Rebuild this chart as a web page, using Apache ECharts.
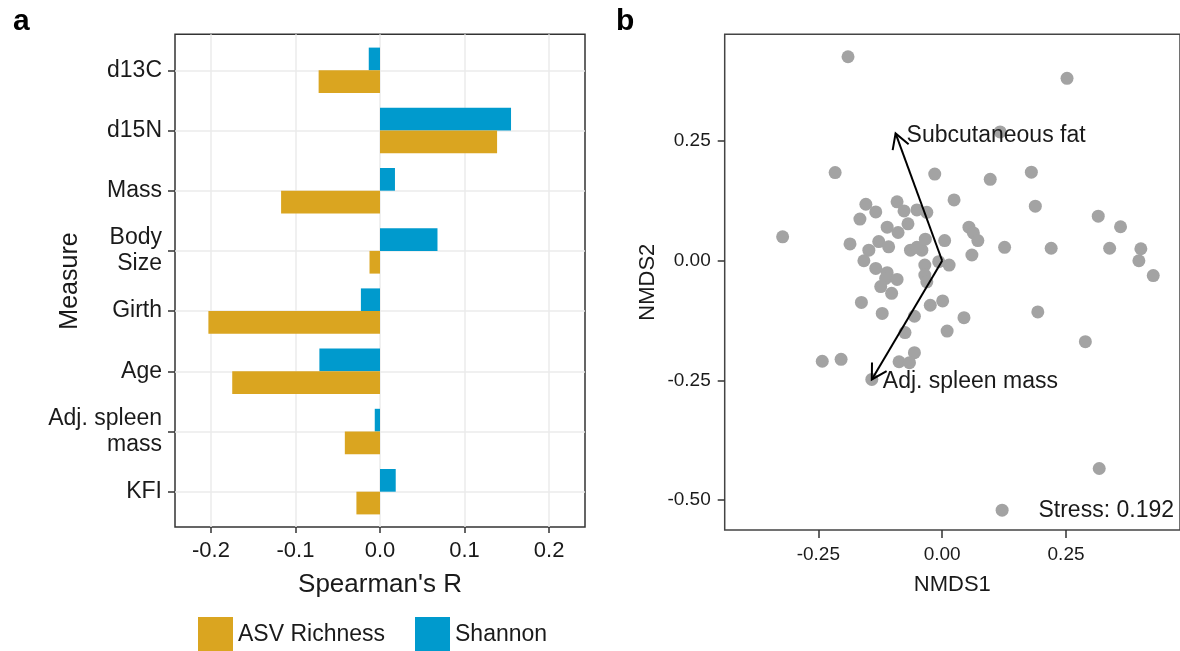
<!DOCTYPE html>
<html>
<head>
<meta charset="utf-8">
<script src="https://cdn.jsdelivr.net/npm/echarts@6/dist/echarts.min.js"></script>
<style>
html,body{margin:0;padding:0;background:#fff;overflow:hidden;}
#chart{width:1180px;height:651px;}
</style>
</head>
<body>
<div id="chart"></div>
<script>
// ---------- Panel a data ----------
const categories = ['d13C', 'd15N', 'Mass', 'Body\nSize', 'Girth', 'Age', 'Adj. spleen\nmass', 'KFI'];
const asvRichness = [-0.0726, 0.1385, -0.117, -0.0124, -0.203, -0.1748, -0.0416, -0.0279];
const shannon = [-0.0133, 0.155, 0.0177, 0.068, -0.0226, -0.0717, -0.0062, 0.0186];
const spearmanTicks = [-0.2, -0.1, 0, 0.1, 0.2];

// ---------- Panel b data ----------
const nmds1 = [-0.190, 0.252, 0.117, -0.216, -0.015, 0.097, 0.180, 0.024, 0.188, 0.315, 0.360, -0.322, 0.126, 0.220, 0.338, 0.401, 0.397, 0.426, 0.193, 0.060,
  -0.154, -0.134, -0.091, -0.077, -0.051, -0.031, -0.166, -0.111, -0.069, -0.089, -0.186, -0.128, -0.108, -0.148, -0.158, -0.064, -0.041, -0.051, -0.034, 0.005,
  -0.007, 0.014, -0.035, -0.035, -0.031, -0.134, -0.111, -0.114, -0.091, -0.124, -0.102, -0.163, 0.001, 0.054, 0.063, 0.072,
  -0.121, -0.056, -0.024, 0.044, 0.010, -0.075, 0.289, -0.242, -0.204, -0.056, -0.087, -0.066, -0.142, 0.317, 0.121];
const nmds2 = [0.426, 0.381, 0.269, 0.184, 0.181, 0.170, 0.185, 0.127, 0.114, 0.093, 0.071, 0.050, 0.028, 0.026, 0.026, 0.025, 0.000, -0.031, -0.107, 0.012,
  0.118, 0.102, 0.123, 0.104, 0.106, 0.101, 0.087, 0.070, 0.077, 0.059, 0.035, 0.040, 0.029, 0.022, 0.000, 0.022, 0.022, 0.028, 0.045, 0.042,
  -0.002, -0.009, -0.009, -0.030, -0.044, -0.016, -0.025, -0.037, -0.039, -0.054, -0.068, -0.087, -0.084, 0.070, 0.058, 0.042,
  -0.110, -0.116, -0.093, -0.119, -0.147, -0.150, -0.169, -0.210, -0.206, -0.192, -0.211, -0.213, -0.248, -0.434, -0.521];
const envNames = ['Subcutaneous fat', 'Adj. spleen mass'];
const envX = [-0.094, -0.142];
const envY = [0.266, -0.248];
const nmds1Ticks = [-0.25, 0, 0.25];
const nmds2Ticks = [-0.5, -0.25, 0, 0.25];
const stressLabel = 'Stress: 0.192';

const FONT = "'Liberation Sans', Arial, sans-serif";
const TXT = '#1a1a1a';
const GOLD = '#DAA520';
const BLUE = '#009ACD';

const chart = echarts.init(document.getElementById('chart'), null, {renderer: 'canvas'});

const points = nmds1.map((x, i) => [x, nmds2[i]]);
const arrows = envX.map((x, i) => [x, envY[i]]);

const option = {
  backgroundColor: '#fff',
  animation: false,
  textStyle: {fontFamily: FONT},
  grid: [
    // panel a frame
    {left: 175, top: 34.3, width: 410, height: 492.7, show: true, borderColor: '#333', borderWidth: 1.5, backgroundColor: 'transparent'},
    // panel a bars (category centres)
    {left: 175, top: 70.3, width: 410, height: 421.4, show: false},
    // panel b
    {left: 724.7, top: 34.3, width: 458.4, height: 495.7, show: true, borderColor: '#444', borderWidth: 1.5, backgroundColor: 'transparent'}
  ],
  xAxis: [
    {
      gridIndex: 0, type: 'value', min: -0.2425, max: 0.2425, position: 'bottom',
      axisLine: {show: false, onZero: false},
      axisTick: {show: true, length: 6, customValues: spearmanTicks, lineStyle: {color: '#333', width: 1.5}},
      axisLabel: {customValues: spearmanTicks, formatter: v => v.toFixed(1), fontSize: 22, color: TXT, margin: 13, fontFamily: FONT},
      splitLine: {show: true, lineStyle: {color: '#EBEBEB', width: 1.5}},
      name: "Spearman's R", nameLocation: 'middle', nameGap: 45, nameMoveOverlap: false,
      nameTextStyle: {fontSize: 26, color: TXT, fontFamily: FONT}
    },
    {gridIndex: 1, type: 'value', min: -0.2425, max: 0.2425, show: false},
    {
      gridIndex: 2, type: 'value', min: -0.4389, max: 0.48, position: 'bottom',
      axisLine: {show: false, onZero: false},
      axisTick: {show: true, length: 8, customValues: nmds1Ticks, lineStyle: {color: '#333', width: 1.5}},
      axisLabel: {customValues: nmds1Ticks, formatter: v => v.toFixed(2), fontSize: 19, color: TXT, margin: 15, fontFamily: FONT},
      splitLine: {show: false},
      name: 'NMDS1', nameLocation: 'middle', nameGap: 44, nameMoveOverlap: false,
      nameTextStyle: {fontSize: 22, color: TXT, fontFamily: FONT}
    }
  ],
  yAxis: [
    {gridIndex: 0, type: 'value', show: false},
    {
      gridIndex: 1, type: 'category', data: categories, inverse: true, boundaryGap: false, position: 'left',
      axisLine: {show: false, onZero: false},
      axisTick: {show: true, length: 7, interval: 0, lineStyle: {color: '#333', width: 1.5}},
      axisLabel: {interval: 0, fontSize: 23, lineHeight: 26, margin: 13, color: TXT, fontFamily: FONT, align: 'right'},
      splitLine: {show: true, interval: 0, lineStyle: {color: '#EBEBEB', width: 1.5}},
      name: 'Measure', nameLocation: 'middle', nameGap: 92, nameRotate: 90, nameMoveOverlap: false,
      nameTextStyle: {fontSize: 25, color: TXT, fontFamily: FONT}
    },
    {
      gridIndex: 2, type: 'value', min: -0.5624, max: 0.4729, position: 'left',
      axisLine: {show: false, onZero: false},
      axisTick: {show: true, length: 7, customValues: nmds2Ticks, lineStyle: {color: '#333', width: 1.5}},
      axisLabel: {customValues: nmds2Ticks, formatter: v => v.toFixed(2), fontSize: 19, color: TXT, margin: 14, fontFamily: FONT},
      splitLine: {show: false},
      name: 'NMDS2', nameLocation: 'middle', nameGap: 66, nameRotate: 90, nameMoveOverlap: false,
      nameTextStyle: {fontSize: 22, color: TXT, fontFamily: FONT}
    }
  ],
  legend: {
    data: ['ASV Richness', 'Shannon'],
    left: 198, top: 617, itemWidth: 35, itemHeight: 35, itemGap: 30, icon: 'rect', padding: 0,
    textStyle: {fontSize: 23, color: TXT, fontFamily: FONT}
  },
  graphic: [
    {type: 'text', x: 13, y: 21.5, style: {text: 'a', font: 'bold 30px ' + FONT, fill: '#000', align: 'left', verticalAlign: 'middle'}},
    {type: 'text', x: 616, y: 21.5, style: {text: 'b', font: 'bold 30px ' + FONT, fill: '#000', align: 'left', verticalAlign: 'middle'}},
    {type: 'text', x: 1174, y: 510.5, z: 10, style: {text: stressLabel, font: '23px ' + FONT, fill: TXT, align: 'right', verticalAlign: 'middle'}}
  ],
  series: [
    {
      type: 'bar', name: 'Shannon', xAxisIndex: 1, yAxisIndex: 1, data: shannon,
      barWidth: 22.7, barGap: '0%', clip: false, itemStyle: {color: BLUE}
    },
    {
      type: 'bar', name: 'ASV Richness', xAxisIndex: 1, yAxisIndex: 1, data: asvRichness,
      barWidth: 22.7, barGap: '0%', clip: false, itemStyle: {color: GOLD}
    },
    {
      type: 'scatter', xAxisIndex: 2, yAxisIndex: 2, data: points, symbolSize: 13,
      itemStyle: {color: '#A3A3A3', opacity: 1}, z: 2
    },
    {
      type: 'custom', xAxisIndex: 2, yAxisIndex: 2, data: arrows, z: 5, clip: false,
      renderItem: function (params, api) {
        const s = api.coord([0, 0]);
        const e = api.coord([api.value(0), api.value(1)]);
        const dx = s[0] - e[0], dy = s[1] - e[1];
        const len = Math.hypot(dx, dy);
        const ux = dx / len, uy = dy / len;
        const L = 17, c = Math.cos(Math.PI / 6), sn = Math.sin(Math.PI / 6);
        const a1 = [e[0] + L * (ux * c - uy * sn), e[1] + L * (ux * sn + uy * c)];
        const a2 = [e[0] + L * (ux * c + uy * sn), e[1] + L * (-ux * sn + uy * c)];
        return {
          type: 'group',
          children: [
            {type: 'polyline', shape: {points: [s, e]}, style: {stroke: '#000', lineWidth: 2, fill: null}},
            {type: 'polyline', shape: {points: [a1, e, a2]}, style: {stroke: '#000', lineWidth: 2, fill: null}},
            {type: 'text', x: e[0] + 11, y: e[1] + 2, style: {text: envNames[params.dataIndex], font: '23px ' + FONT, fill: TXT, align: 'left', verticalAlign: 'middle'}}
          ]
        };
      }
    }
  ]
};
chart.setOption(option);
</script>
</body>
</html>
